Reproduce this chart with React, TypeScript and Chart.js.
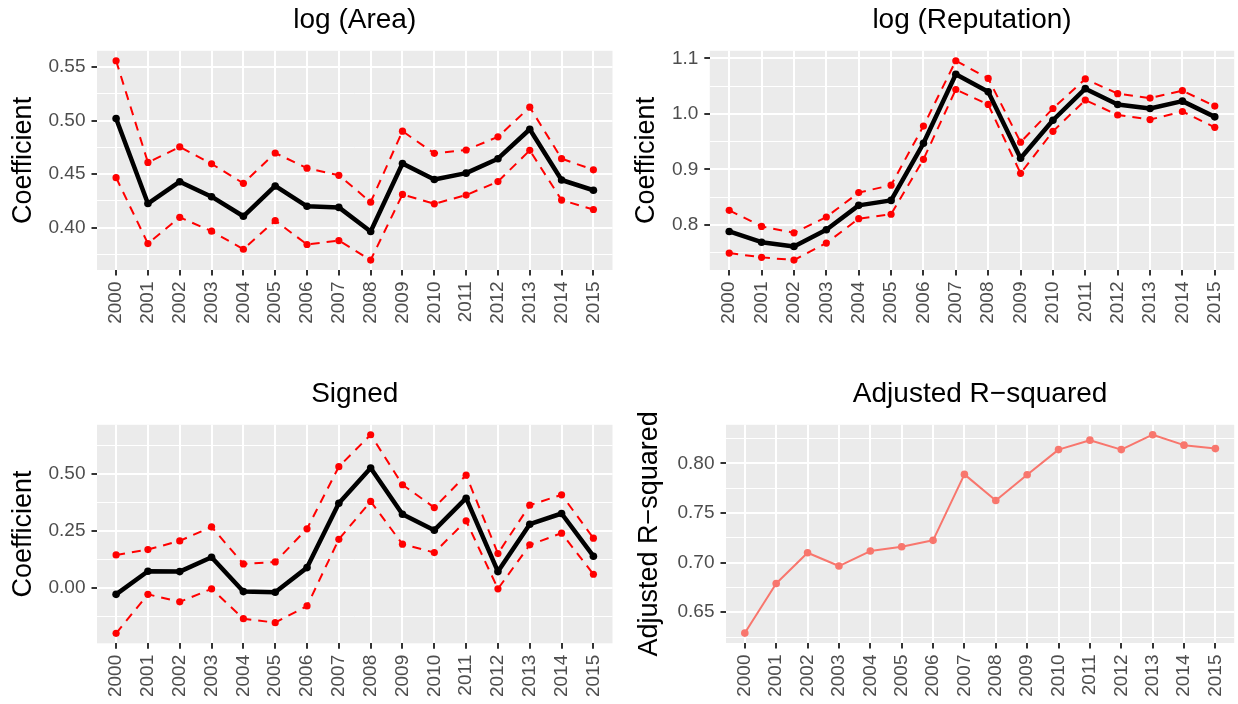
import React, { useEffect, useRef } from "react";
import { Chart, registerables } from "chart.js";

Chart.register(...registerables);

// ---------- data ----------
const years = [2000, 2001, 2002, 2003, 2004, 2005, 2006, 2007, 2008, 2009, 2010, 2011, 2012, 2013, 2014, 2015];

const areaCoef = [0.502, 0.4226, 0.443, 0.429, 0.4107, 0.439, 0.42, 0.419, 0.3965, 0.46, 0.445, 0.451, 0.4645, 0.492, 0.4446, 0.435];
const areaUpper = [0.556, 0.461, 0.4755, 0.4597, 0.4415, 0.4698, 0.4556, 0.449, 0.4239, 0.4902, 0.4695, 0.4726, 0.4849, 0.5126, 0.4645, 0.4541];
const areaLower = [0.4468, 0.3852, 0.4097, 0.3968, 0.3799, 0.4066, 0.3843, 0.388, 0.3698, 0.4311, 0.4223, 0.4305, 0.4431, 0.4723, 0.4258, 0.417];

const repCoef = [0.788, 0.7685, 0.761, 0.791, 0.835, 0.844, 0.947, 1.0715, 1.04, 0.92, 0.9885, 1.0455, 1.017, 1.0097, 1.023, 0.9946];
const repUpper = [0.826, 0.797, 0.7855, 0.814, 0.858, 0.8715, 0.978, 1.0958, 1.064, 0.949, 1.0097, 1.063, 1.0364, 1.0285, 1.0418, 1.014];
const repLower = [0.749, 0.7412, 0.7364, 0.767, 0.811, 0.819, 0.918, 1.044, 1.017, 0.8927, 0.9685, 1.025, 0.998, 0.9897, 1.0043, 0.9758];

const signedCoef = [-0.028, 0.073, 0.0716, 0.1345, -0.016, -0.019, 0.089, 0.371, 0.525, 0.323, 0.253, 0.393, 0.0716, 0.279, 0.326, 0.139];
const signedUpper = [0.1447, 0.168, 0.206, 0.2675, 0.105, 0.114, 0.259, 0.531, 0.671, 0.452, 0.352, 0.494, 0.1506, 0.3626, 0.408, 0.218];
const signedLower = [-0.199, -0.028, -0.061, -0.004, -0.1345, -0.152, -0.079, 0.213, 0.379, 0.1915, 0.155, 0.294, -0.004, 0.1886, 0.2398, 0.06];

const adjR2 = [0.629, 0.679, 0.71, 0.6966, 0.7117, 0.716, 0.7225, 0.789, 0.7627, 0.7886, 0.814, 0.8235, 0.814, 0.829, 0.8185, 0.815];

// tick values / labels
const areaMajor = [0.4, 0.45, 0.5, 0.55];
const areaMajorLabels = ["0.40", "0.45", "0.50", "0.55"];
const areaMinor = [0.375, 0.425, 0.475, 0.525];

const repMajor = [0.8, 0.9, 1.0, 1.1];
const repMajorLabels = ["0.8", "0.9", "1.0", "1.1"];
const repMinor = [0.75, 0.85, 0.95, 1.05];

const signedMajor = [0, 0.25, 0.5];
const signedMajorLabels = ["0.00", "0.25", "0.50"];
const signedMinor = [-0.125, 0.125, 0.375, 0.625];

const r2Major = [0.65, 0.7, 0.75, 0.8];
const r2MajorLabels = ["0.65", "0.70", "0.75", "0.80"];
const r2Minor = [0.625, 0.675, 0.725, 0.775, 0.825];

// ---------- styling ----------
const FONT = "'Liberation Sans', Arial, Helvetica, sans-serif";
const RED = "#FF0000";
const BLACK = "#000000";
const SALMON = "#F8766D";

type Series = { values: number[]; color: string; width: number; radius: number; dash?: number[] };

type PanelProps = {
  title: string;
  yTitle: string;
  series: Series[];
  major: number[];
  majorLabels: string[];
  minor: number[];
  left: number;
  top: number;
  W: number;
  H: number;
  area: { left: number; right: number; top: number; bottom: number };
  titleCenter: number;
  yTitleCenter: number;
};

function Panel(p: PanelProps) {
  const ref = useRef<HTMLCanvasElement>(null);
  useEffect(() => {
    if (!ref.current) return;
    const all = p.series.flatMap((s) => s.values);
    const lo = Math.min(...all);
    const hi = Math.max(...all);
    const pad = (hi - lo) * 0.05;
    const yTicks = [...p.major, ...p.minor].sort((a, b) => a - b);
    const isMajor = (v: number) => p.major.some((m) => Math.abs(m - v) < 1e-9);

    const datasets = p.series.map((s) => ({
      data: s.values.map((v, i) => ({ x: years[i], y: v })),
      borderColor: s.color,
      backgroundColor: s.color,
      borderWidth: s.width,
      borderDash: s.dash ?? [],
      borderJoinStyle: "round" as const,
      pointRadius: s.radius,
      pointHoverRadius: s.radius,
      pointBackgroundColor: s.color,
      pointBorderWidth: 0,
      tension: 0,
      fill: false,
    }));

    const titleLH = 29 * 1.2;
    const titlePadTop = p.titleCenter - titleLH / 2;
    const yTitleLH = 27 * 1.2;

    const bgPlugin = {
      id: "panelBg",
      beforeDraw(chart: any) {
        const { ctx, chartArea: a } = chart;
        ctx.save();
        ctx.fillStyle = "#EBEBEB";
        ctx.fillRect(a.left, a.top, a.right - a.left, a.bottom - a.top);
        ctx.restore();
      },
    };

    const chart = new Chart(ref.current, {
      type: "line",
      data: { datasets },
      options: {
        animation: false,
        responsive: false,
        maintainAspectRatio: false,
        devicePixelRatio: 1,
        events: [],
        layout: { padding: { left: 0, top: 0, bottom: 0, right: p.W - p.area.right } },
        plugins: {
          legend: { display: false },
          tooltip: { enabled: false },
          title: {
            display: true,
            text: p.title,
            fullSize: false,
            color: "#000000",
            font: { family: FONT, size: 28, weight: "normal", lineHeight: 1.2 },
            padding: { top: titlePadTop, bottom: p.area.top - titlePadTop - titleLH },
          },
        },
        scales: {
          x: {
            type: "linear",
            min: years[0] - 0.6,
            max: years[years.length - 1] + 0.6,
            afterBuildTicks: (ax: any) => {
              ax.ticks = years.map((y) => ({ value: y }));
            },
            afterFit: (ax: any) => {
              ax.height = p.H - p.area.bottom;
              ax.paddingLeft = 0;
              ax.paddingRight = 0;
            },
            grid: {
              color: "#FFFFFF",
              lineWidth: 2,
              drawTicks: true,
              tickLength: 5.5,
              tickColor: "#333333",
              tickWidth: 2,
            },
            border: { display: false },
            ticks: {
              autoSkip: false,
              minRotation: 90,
              maxRotation: 90,
              padding: 6,
              color: "#4D4D4D",
              font: { family: FONT, size: 19 },
              callback: (v: any) => String(v),
            },
          },
          y: {
            type: "linear",
            min: lo - pad,
            max: hi + pad,
            afterBuildTicks: (ax: any) => {
              ax.ticks = yTicks.map((v) => ({ value: v }));
            },
            afterFit: (ax: any) => {
              ax.width = p.area.left;
              ax.paddingTop = 0;
              ax.paddingBottom = 0;
            },
            grid: {
              color: "#FFFFFF",
              lineWidth: (c: any) => (c.tick && isMajor(c.tick.value) ? 2 : 1),
              drawTicks: true,
              tickLength: 5.5,
              tickColor: (c: any) => (c.tick && isMajor(c.tick.value) ? "#333333" : "rgba(0,0,0,0)"),
              tickWidth: 2,
            },
            border: { display: false },
            ticks: {
              autoSkip: false,
              padding: 6,
              color: "#4D4D4D",
              font: { family: FONT, size: 19 },
              callback: (v: any) => {
                const i = p.major.findIndex((m) => Math.abs(m - Number(v)) < 1e-9);
                return i >= 0 ? p.majorLabels[i] : "";
              },
            },
            title: {
              display: true,
              text: p.yTitle,
              color: "#000000",
              font: { family: FONT, size: 27, lineHeight: 1.2 },
              padding: { top: p.yTitleCenter - yTitleLH / 2, bottom: 0 },
            },
          },
        },
      } as any,
      plugins: [bgPlugin],
    });
    return () => chart.destroy();
  }, []);
  return (
    <canvas
      ref={ref}
      width={p.W}
      height={p.H}
      style={{ position: "absolute", left: p.left, top: p.top, width: p.W, height: p.H }}
    />
  );
}

const mainStyle = { color: BLACK, width: 4.5, radius: 3.8 };
const ciStyle = { color: RED, width: 2, radius: 3.6, dash: [9, 7] };

export default function App() {
  return (
    <div style={{ position: "absolute", left: 0, top: 0, width: 1238, height: 704, background: "#FFFFFF", overflow: "hidden" }}>
      <Panel
        title="log (Area)"
        yTitle="Coefficient"
        series={[
          { values: areaCoef, ...mainStyle },
          { values: areaUpper, ...ciStyle },
          { values: areaLower, ...ciStyle },
        ]}
        major={areaMajor}
        majorLabels={areaMajorLabels}
        minor={areaMinor}
        left={0}
        top={0}
        W={619}
        H={352}
        area={{ left: 97, right: 612.5, top: 52, bottom: 270 }}
        titleCenter={21}
        yTitleCenter={23.6}
      />
      <Panel
        title="log (Reputation)"
        yTitle="Coefficient"
        series={[
          { values: repCoef, ...mainStyle },
          { values: repUpper, ...ciStyle },
          { values: repLower, ...ciStyle },
        ]}
        major={repMajor}
        majorLabels={repMajorLabels}
        minor={repMinor}
        left={619}
        top={0}
        W={619}
        H={352}
        area={{ left: 90.8, right: 617.2, top: 52, bottom: 270 }}
        titleCenter={21}
        yTitleCenter={27.5}
      />
      <Panel
        title="Signed"
        yTitle="Coefficient"
        series={[
          { values: signedCoef, ...mainStyle },
          { values: signedUpper, ...ciStyle },
          { values: signedLower, ...ciStyle },
        ]}
        major={signedMajor}
        majorLabels={signedMajorLabels}
        minor={signedMinor}
        left={0}
        top={352}
        W={619}
        H={352}
        area={{ left: 97, right: 612.5, top: 74, bottom: 291.3 }}
        titleCenter={43}
        yTitleCenter={23.6}
      />
      <Panel
        title="Adjusted R−squared"
        yTitle="Adjusted R−squared"
        series={[{ values: adjR2, color: SALMON, width: 2, radius: 3.8 }]}
        major={r2Major}
        majorLabels={r2MajorLabels}
        minor={r2Minor}
        left={619}
        top={352}
        W={619}
        H={352}
        area={{ left: 107, right: 617, top: 74, bottom: 291 }}
        titleCenter={43}
        yTitleCenter={31}
      />
    </div>
  );
}
